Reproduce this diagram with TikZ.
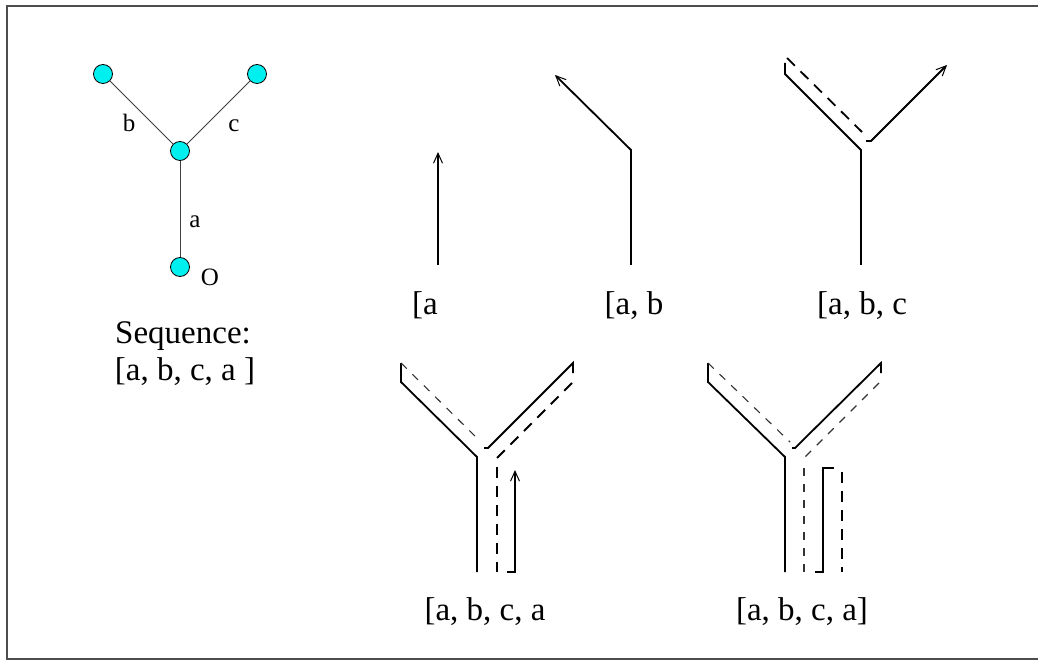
\documentclass[tikz,border=0pt]{standalone}
\usepackage{fontspec}
\setmainfont{Liberation Serif}
\usepackage{xcolor}
\usepackage{tikz}
\usetikzlibrary{arrows.meta}
\definecolor{WalkCyan}{HTML}{00F0F0}
\definecolor{WalkFrame}{HTML}{4D4D4D}
\tikzset{
  vert/.style={circle,draw=black,fill=WalkCyan,line width=0.8pt,minimum size=19pt,inner sep=0pt},
  edgeline/.style={line width=0.9pt,black!75},
  walk/.style={line width=1.8pt},
  walkback/.style={line width=1.8pt,dash pattern=on 11pt off 8pt},
  walkold/.style={line width=1.1pt,black!80,dash pattern=on 8pt off 8pt},
  tip/.style={-{Straight Barb[length=10pt,width=9pt,line width=1pt]}},
  seqlabel/.style={anchor=base,font=\fontsize{33}{39}\selectfont},
  edgelabel/.style={anchor=base,font=\fontsize{25}{30}\selectfont},
}

\begin{document}
\begin{tikzpicture}[x=1pt,y=-1pt]
    \useasboundingbox (0,0) rectangle (1038,660);
    \draw[WalkFrame,line width=1.5pt] (7,6) rectangle (1046,659);
    % the tree
    \node[vert] (o) at (180,267) {};
    \node[vert] (m) at (180,151) {};
    \node[vert] (lb) at (103,74) {};
    \node[vert] (rc) at (257,74) {};
    \draw[edgeline] (o) -- (m);
    \draw[edgeline] (m) -- (lb);
    \draw[edgeline] (m) -- (rc);
    \node[edgelabel] (lbl-b) at (129,132) {b};
    \node[edgelabel] (lbl-c) at (234,132) {c};
    \node[edgelabel] (lbl-a) at (195,228) {a};
    \node[edgelabel] (lbl-o) at (210,285) {O};
    \node[seqlabel] (seq) at (183,343) {Sequence:};
    \node[seqlabel] (seq-all) at (185,380) {[a, b, c, a ]};
    % step 1
    \draw[walk,tip] (438,265) -- (438,152);
    \node[seqlabel] (seq-1) at (425,314) {[a};
    % step 2
    \draw[walk,tip] (631,265) -- (631,150) -- (555,75);
    \node[seqlabel] (seq-2) at (634,314) {[a, b};
    % step 3
    \draw[walk] (861,265) -- (861,150) -- (785,74) -- (785,63);
    \draw[walkback] (787,58) -- (862,132);
    \draw[walk,tip] (866,141) -- (871,141) -- (947,65);
    \node[seqlabel] (seq-3) at (862,314) {[a, b, c};
    % step 4
    \draw[walk] (477,572) -- (477,457) -- (401,382) -- (401,363);
    \draw[walkold] (401,363) -- (480,441);
    \draw[walk] (484,448) -- (488,448) -- (573,363) -- (573,373);
    \draw[walkback] (572,383) -- (497,458);
    \draw[walkback] (497,467) -- (497,572);
    \draw[walk,tip] (507,572) -- (515,572) -- (515,470);
    \node[seqlabel] (seq-4) at (485,620) {[a, b, c, a};
    % step 5
    \draw[walk] (785,572) -- (785,457) -- (708,382) -- (708,363);
    \draw[walkold] (708,363) -- (790,442);
    \draw[walk] (792,448) -- (795,448) -- (881,363) -- (881,373);
    \draw[walkold] (879,383) -- (805,457);
    \draw[walkold] (804,468) -- (804,572);
    \draw[walk] (815,572) -- (823,572) -- (823,468) -- (834,468);
    \draw[walkback] (842,472) -- (842,572);
    \node[seqlabel] (seq-5) at (802,620) {[a, b, c, a]};
\end{tikzpicture}
\end{document}
